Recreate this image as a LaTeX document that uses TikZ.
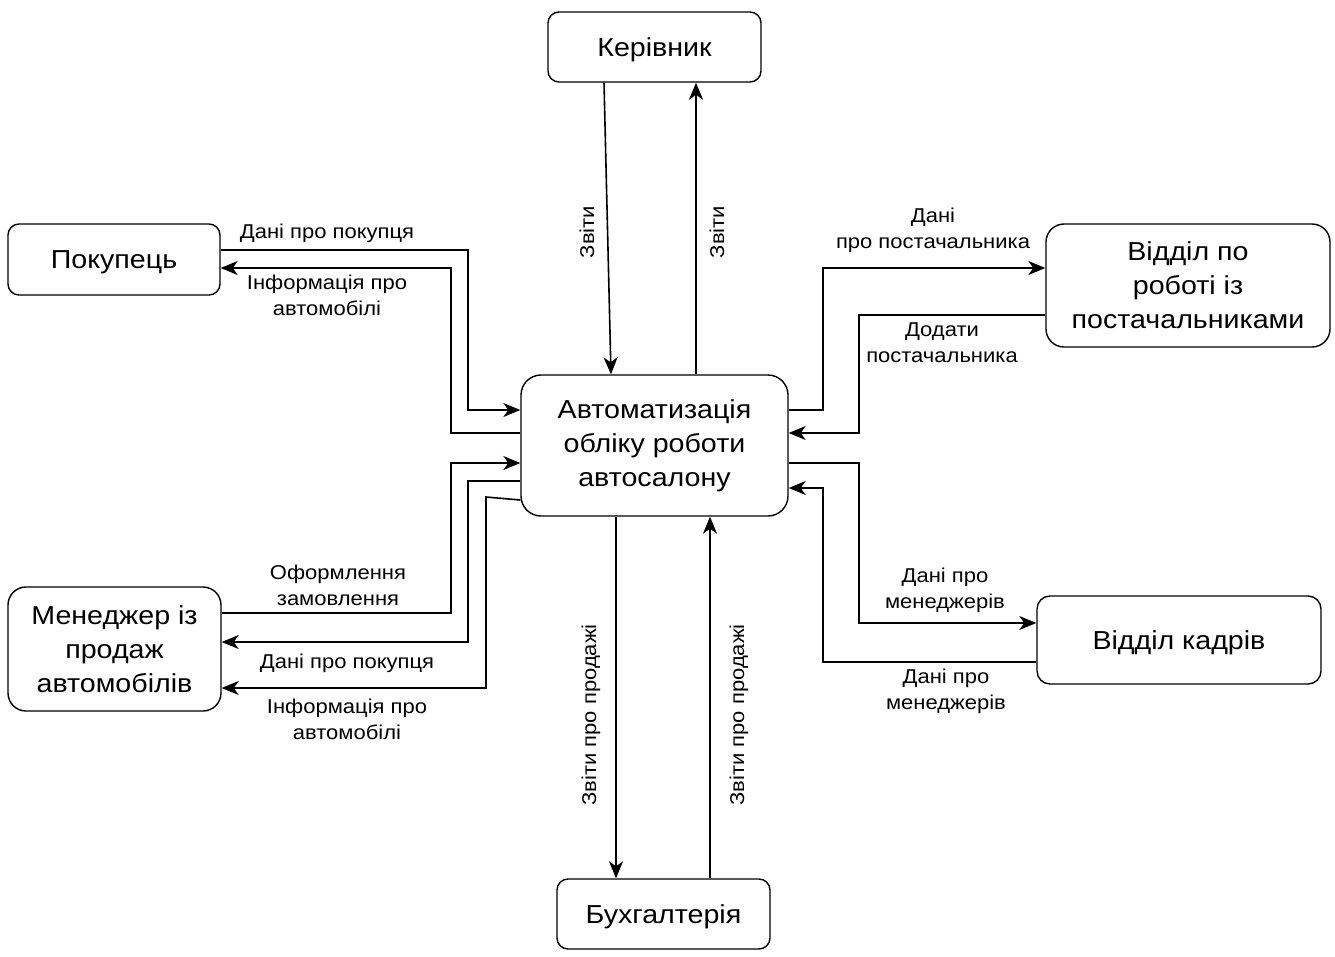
\documentclass[tikz,border=0pt]{standalone}
\usepackage{fontspec}
\setmainfont{Liberation Sans}[FakeStretch=1.1]
\usetikzlibrary{arrows.meta}
\begin{document}
\begin{tikzpicture}[x=1pt,y=-1pt,
  box/.style={draw, line width=1.4pt, align=center, inner sep=0pt,
              font=\fontsize{26}{34}\selectfont},
  onebox/.style={box, text depth=0pt},
  flow/.style={line width=1.6pt, -{Stealth[length=17pt,width=14pt,inset=5pt]}},
  lbl/.style={align=center, inner sep=0pt, font=\fontsize{20}{26}\selectfont}]
\useasboundingbox (0,0) rectangle (1335,956);

% entities
\node[onebox, rounded corners=11pt, minimum width=213pt, minimum height=70pt] (ker) at (654.5,47) {Керівник};
\node[onebox, rounded corners=11pt, minimum width=212pt, minimum height=71pt] (pok) at (114,259.5) {Покупець};
\node[box, rounded corners=20pt, minimum width=267pt, minimum height=141pt] (auto) at (654.5,445.5) {Автоматизація\\обліку роботи\\автосалону};
\node[box, rounded corners=18pt, minimum width=284pt, minimum height=123pt] (sup) at (1188,285.5) {Відділ по\\роботі із\\постачальниками};
\node[box, rounded corners=18pt, minimum width=213pt, minimum height=124pt] (man) at (114.5,649) {Менеджер із\\продаж\\автомобілів};
\node[onebox, rounded corners=13pt, minimum width=284pt, minimum height=88pt] (hr) at (1179,640) {Відділ кадрів};
\node[onebox, rounded corners=11pt, minimum width=213pt, minimum height=70pt] (buh) at (663.5,914) {Бухгалтерія};

% flows: left side
\draw[flow] (pok.east |- 0,250) -| (468,410) -- (auto.west |- 0,410);
\draw[flow] (auto.west |- 0,433) -| (451,268) -- (pok.east |- 0,268);
\draw[flow] (man.east |- 0,613) -| (451,463) -- (auto.west |- 0,463);
\draw[flow] (auto.west |- 0,481) -| (468,642) -- (man.east |- 0,642);
\draw[flow] (auto.west |- 0,500) -- (486,497) -- (486,688) -- (man.east |- 0,688);

% flows: right side
\draw[flow] (auto.east |- 0,410) -| (823,268) -- (sup.west |- 0,268);
\draw[flow] (sup.west |- 0,315) -| (859,433) -- (auto.east |- 0,433);
\draw[flow] (auto.east |- 0,463) -| (859,623) -- (hr.west |- 0,623);
\draw[flow] (hr.west |- 0,662) -| (823,488) -- (auto.east |- 0,488);

% flows: vertical
\draw[flow] (ker.south -| 604,0) -- (auto.north -| 611,0);
\draw[flow] (auto.north -| 696,0) -- (ker.south -| 696,0);
\draw[flow] (auto.south -| 616,0) -- (buh.north -| 616,0);
\draw[flow] (buh.north -| 710,0) -- (auto.south -| 710,0);

% flow labels
\node[lbl] (l1) at (327,233) {Дані про покупця};
\node[lbl] (l2) at (327,295) {Інформація про\\автомобілі};
\node[lbl] (l3) at (338,585) {Оформлення\\замовлення};
\node[lbl] (l4) at (347,663) {Дані про покупця};
\node[lbl] (l5) at (347,719) {Інформація про\\автомобілі};
\node[lbl] (l6) at (933,230) {Дані\\про постачальника};
\node[lbl] (l7) at (942,343) {Додати\\постачальника};
\node[lbl] (l8) at (945,590) {Дані про\\менеджерів};
\node[lbl] (l9) at (946,691) {Дані про\\менеджерів};
\node[lbl, rotate=90] (l10) at (587,232) {Звіти};
\node[lbl, rotate=90] (l11) at (717,232) {Звіти};
\node[lbl, rotate=90] (l12) at (591,715) {Звіти про продажі};
\node[lbl, rotate=90] (l13) at (739,715) {Звіти про продажі};
\end{tikzpicture}
\end{document}
